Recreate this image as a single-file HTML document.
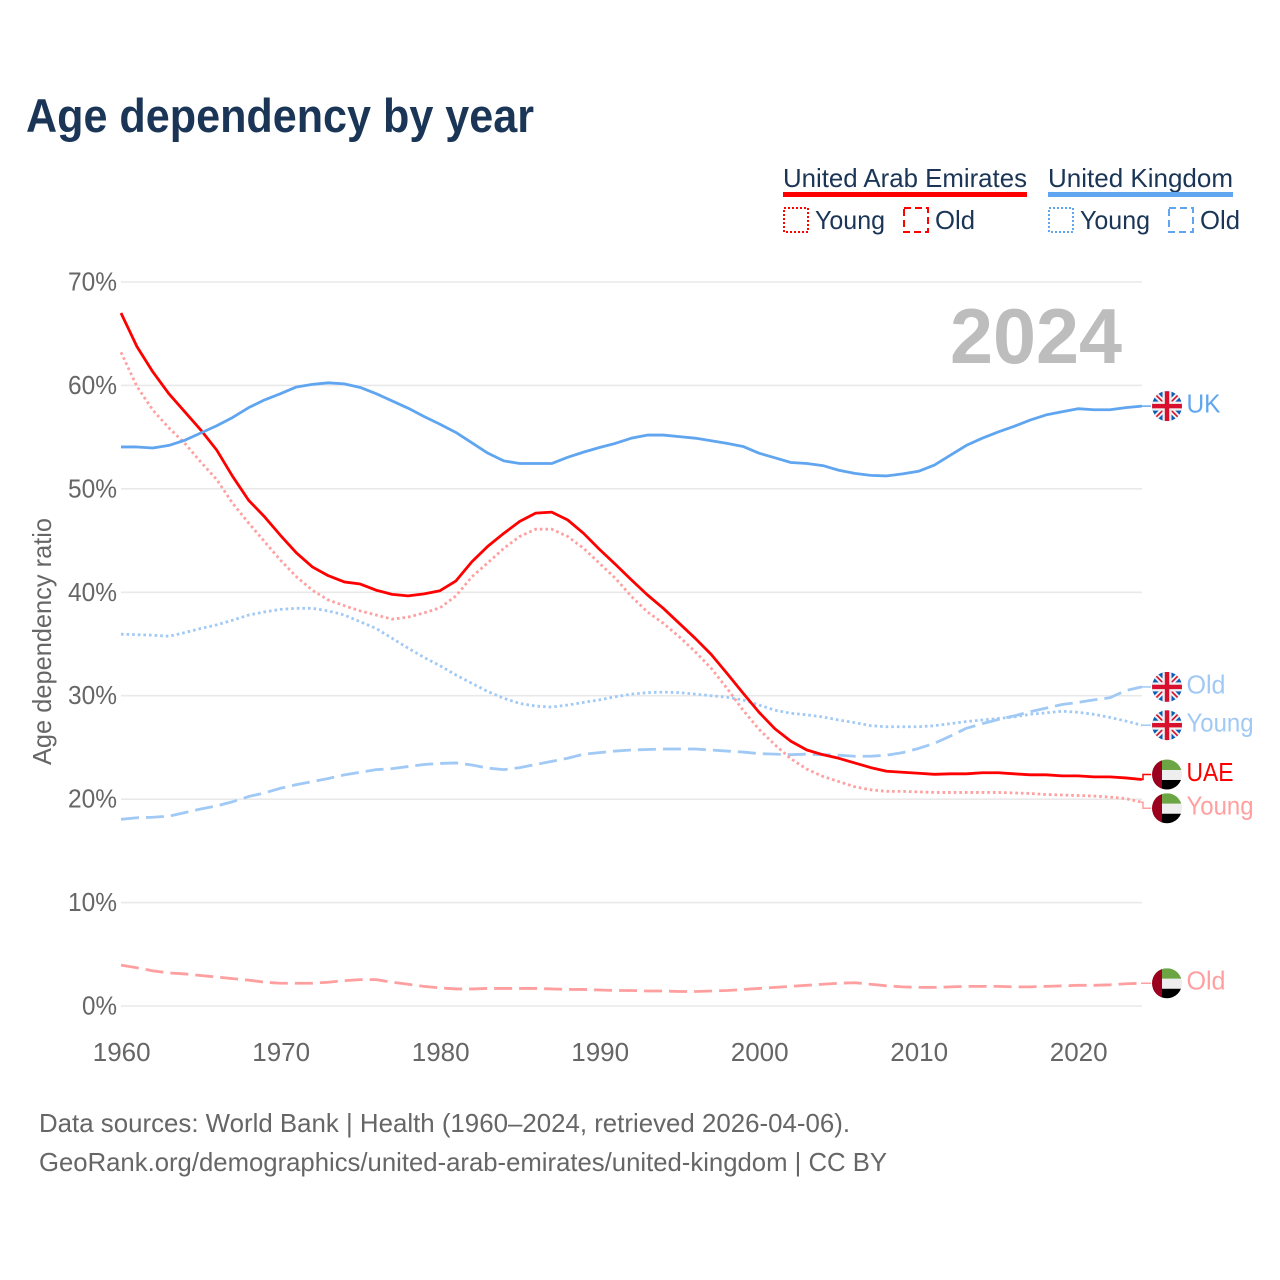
<!DOCTYPE html>
<html lang="en">
<head>
<meta charset="utf-8">
<title>Age dependency by year</title>
<style>
html,body{margin:0;padding:0;background:#fff;width:1280px;height:1280px;overflow:hidden}
svg{display:block}
text{font-family:"Liberation Sans",sans-serif}
</style>
</head>
<body>
<svg id="chart" xmlns="http://www.w3.org/2000/svg" width="1280" height="1280" viewBox="0 0 1280 1280">
  <rect x="0" y="0" width="1280" height="1280" fill="#fff"/>
  <text x="26" y="132" font-size="47" font-weight="700" fill="#1a3556" textLength="508" lengthAdjust="spacingAndGlyphs">Age dependency by year</text>

  <g font-size="26" fill="#1a3556">
    <text x="783" y="187" textLength="244" lengthAdjust="spacingAndGlyphs">United Arab Emirates</text>
    <rect x="783" y="192" width="244" height="5" fill="#ff0000"/>
    <text x="1048" y="187" textLength="185" lengthAdjust="spacingAndGlyphs">United Kingdom</text>
    <rect x="1048" y="192" width="185" height="5" fill="#60a5ef"/>
    <rect x="784" y="208" width="24" height="24" fill="none" stroke="#ff0000" stroke-width="2" stroke-dasharray="2,2"/>
    <text x="815" y="229" textLength="70" lengthAdjust="spacingAndGlyphs">Young</text>
    <rect x="904" y="208" width="24" height="24" fill="none" stroke="#ff0000" stroke-width="2" stroke-dasharray="7,4"/>
    <text x="935" y="229" textLength="40" lengthAdjust="spacingAndGlyphs">Old</text>
    <rect x="1049" y="208" width="24" height="24" fill="none" stroke="#60a5ef" stroke-width="2" stroke-dasharray="2,2"/>
    <text x="1080" y="229" textLength="70" lengthAdjust="spacingAndGlyphs">Young</text>
    <rect x="1169" y="208" width="24" height="24" fill="none" stroke="#60a5ef" stroke-width="2" stroke-dasharray="7,4"/>
    <text x="1200" y="229" textLength="40" lengthAdjust="spacingAndGlyphs">Old</text>
  </g>

  <g id="grid"></g>
  <g id="yticks" font-size="26" fill="#666"></g>
  <g id="xticks" font-size="26" fill="#666"></g>
  <text transform="translate(51,765) rotate(-90)" font-size="26" fill="#666" textLength="247" lengthAdjust="spacingAndGlyphs">Age dependency ratio</text>
  <text x="950" y="363" font-size="78" font-weight="700" fill="#bdbdbd" textLength="172" lengthAdjust="spacingAndGlyphs">2024</text>

  <g id="series"></g>
  <g id="endlabels"></g>

  <g font-size="26" fill="#666">
    <text x="39" y="1132" textLength="811" lengthAdjust="spacingAndGlyphs">Data sources: World Bank | Health (1960–2024, retrieved 2026-04-06).</text>
    <text x="39" y="1171" textLength="848" lengthAdjust="spacingAndGlyphs">GeoRank.org/demographics/united-arab-emirates/united-kingdom | CC BY</text>
  </g>
</svg>
<script>
const years = [1960,1961,1962,1963,1964,1965,1966,1967,1968,1969,
  1970,1971,1972,1973,1974,1975,1976,1977,1978,1979,
  1980,1981,1982,1983,1984,1985,1986,1987,1988,1989,
  1990,1991,1992,1993,1994,1995,1996,1997,1998,1999,
  2000,2001,2002,2003,2004,2005,2006,2007,2008,2009,
  2010,2011,2012,2013,2014,2015,2016,2017,2018,2019,
  2020,2021,2022,2023,2024];
const uaeTotal = [67.0,63.75,61.3,59.2,57.45,55.7,53.75,51.2,48.9,47.3,
  45.5,43.8,42.45,41.6,41.0,40.8,40.2,39.8,39.65,39.85,
  40.15,41.1,42.95,44.45,45.7,46.85,47.65,47.75,47.0,45.7,
  44.15,42.7,41.2,39.75,38.45,37.0,35.55,34.0,32.15,30.25,
  28.4,26.8,25.6,24.75,24.3,23.95,23.5,23.05,22.7,22.6,
  22.5,22.4,22.45,22.45,22.55,22.55,22.45,22.35,22.35,22.25,
  22.25,22.15,22.15,22.05,21.9];
const uaeYoung = [63.2,59.9,57.6,55.9,54.4,52.6,50.9,48.6,46.7,44.9,
  43.1,41.5,40.2,39.25,38.7,38.2,37.8,37.4,37.6,38.0,
  38.5,39.65,41.5,42.85,44.25,45.4,46.1,46.1,45.4,44.25,
  42.8,41.35,39.6,38.1,37.0,35.7,34.25,32.65,30.7,28.6,
  26.75,25.25,23.9,22.9,22.2,21.7,21.2,20.9,20.75,20.75,
  20.7,20.65,20.65,20.65,20.65,20.65,20.6,20.55,20.45,20.4,
  20.35,20.3,20.2,20.05,19.7];
const uaeOld = [3.95,3.7,3.4,3.2,3.1,2.95,2.8,2.65,2.5,2.3,
  2.2,2.2,2.2,2.3,2.45,2.55,2.55,2.3,2.1,1.9,
  1.75,1.65,1.65,1.7,1.7,1.7,1.7,1.65,1.6,1.6,
  1.55,1.5,1.5,1.45,1.45,1.4,1.4,1.45,1.5,1.6,
  1.7,1.8,1.9,2.0,2.1,2.2,2.25,2.1,1.95,1.85,
  1.8,1.8,1.85,1.9,1.9,1.9,1.85,1.85,1.9,1.95,
  2.0,2.0,2.05,2.15,2.2];
const ukTotal = [54.05,54.05,53.95,54.2,54.7,55.4,56.1,56.9,57.85,58.6,
  59.2,59.85,60.1,60.25,60.15,59.8,59.2,58.5,57.8,57.0,
  56.25,55.45,54.45,53.45,52.7,52.45,52.45,52.45,53.05,53.55,
  54.0,54.4,54.9,55.2,55.2,55.05,54.9,54.65,54.4,54.1,
  53.45,53.0,52.55,52.45,52.25,51.8,51.5,51.3,51.25,51.45,
  51.7,52.3,53.25,54.2,54.9,55.5,56.05,56.65,57.15,57.45,
  57.75,57.65,57.65,57.85,58.0];
const ukYoung = [35.95,35.9,35.85,35.75,36.1,36.5,36.85,37.3,37.8,38.1,
  38.35,38.45,38.45,38.2,37.8,37.15,36.5,35.55,34.6,33.7,
  32.9,32.0,31.2,30.4,29.75,29.25,29.0,28.9,29.1,29.35,
  29.6,29.9,30.15,30.3,30.35,30.3,30.15,30.0,29.85,29.6,
  29.1,28.6,28.3,28.15,27.95,27.65,27.4,27.1,27.0,27.0,
  27.0,27.1,27.3,27.5,27.65,27.8,27.95,28.2,28.35,28.5,
  28.4,28.2,27.9,27.55,27.15];
const ukOld = [18.05,18.2,18.25,18.35,18.7,19.05,19.35,19.75,20.25,20.6,
  21.05,21.4,21.7,22.0,22.35,22.6,22.85,22.95,23.15,23.35,
  23.45,23.5,23.3,23.0,22.85,23.05,23.35,23.65,23.95,24.35,
  24.5,24.65,24.75,24.8,24.85,24.85,24.85,24.75,24.65,24.55,
  24.4,24.35,24.3,24.35,24.3,24.25,24.15,24.15,24.25,24.5,
  24.9,25.4,26.1,26.85,27.3,27.7,28.05,28.45,28.8,29.15,
  29.35,29.6,29.8,30.5,30.85];
const yTickValues = [0,10,20,30,40,50,60,70];
const xTickYears = [1960,1970,1980,1990,2000,2010,2020];

const NS = 'http://www.w3.org/2000/svg';
function xScale(year){ return 121 + (year - 1960) * 15.95; }
function yScale(v){ return 1006 - v * 10.343; }
function mk(tag, attrs, parent){
  const el = document.createElementNS(NS, tag);
  for (const k in attrs) el.setAttribute(k, attrs[k]);
  parent.appendChild(el);
  return el;
}

const gridG = document.getElementById('grid');
const yTicksG = document.getElementById('yticks');
yTickValues.forEach(function(v){
  const line = mk('line', {x1:121, x2:1142, y1:yScale(v), y2:yScale(v), stroke:'#e9e9e9', 'stroke-width':1.6}, gridG);
  
  
  const t = mk('text', {x:117, y:yScale(v) + 8.5, 'text-anchor':'end', textLength:49, lengthAdjust:'spacingAndGlyphs'}, yTicksG);
  if (v === 0) { t.setAttribute('textLength', 35); }
  t.textContent = v + '%';
  
  
});

const xTicksG = document.getElementById('xticks');
xTickYears.forEach(function(yr){
  const t = mk('text', {x:xScale(yr) + 0.7, y:1061, 'text-anchor':'middle'}, xTicksG);
  t.textContent = String(yr);
  
  
});

const seriesG = document.getElementById('series');
const labelsG = document.getElementById('endlabels');
const defs = mk('defs', {}, labelsG);

const UAE_RED = '#ff0000', UK_BLUE = '#60a5ef', UAE_PALE = '#ff9f9f', UK_PALE = '#a0c9f5';
const DOT = '2.6,3', DASH = '18,7';

function drawLine(name, values, color, dash){
  const d = values.map(function(v, i){ return (i ? 'L' : 'M') + xScale(years[i]).toFixed(2) + ' ' + yScale(v).toFixed(2); }).join(' ');
  const p = mk('path', {d:d, fill:'none', stroke:color, 'stroke-width':2.8, 'stroke-linejoin':'round'}, seriesG);
  if (dash) p.setAttribute('stroke-dasharray', dash);
  
  
}

drawLine('line-uae-old', uaeOld, UAE_PALE, DASH);
drawLine('line-uk-old', ukOld, UK_PALE, DASH);
drawLine('line-uk-young', ukYoung, UK_PALE, DOT);
drawLine('line-uae-young', uaeYoung, UAE_PALE, DOT);
drawLine('line-uae-total', uaeTotal, UAE_RED, null);
drawLine('line-uk-total', ukTotal, UK_BLUE, null);

let clipId = 0;
function drawFlag(kind, name, cy){
  const cx = 1167, r = 15;
  clipId += 1;
  const id = 'flagclip' + clipId;
  const clip = mk('clipPath', {id:id}, defs);
  mk('circle', {cx:cx, cy:cy, r:r}, clip);
  const g = mk('g', {'clip-path':'url(#' + id + ')'}, labelsG);
  
  
  const x0 = cx - r, y0 = cy - r, s = 2 * r;
  if (kind === 'uae') {
    mk('rect', {x:x0, y:y0, width:s, height:10.5, fill:'#6ca544'}, g);
    mk('rect', {x:x0, y:y0 + 10.5, width:s, height:10, fill:'#eeeeee'}, g);
    mk('rect', {x:x0, y:y0 + 20.5, width:s, height:10, fill:'#000000'}, g);
    mk('rect', {x:x0, y:y0, width:10, height:s, fill:'#9b001f'}, g);
  } else {
    mk('rect', {x:x0, y:y0, width:s, height:s, fill:'#0b5cb5'}, g);
    mk('path', {d:'M' + x0 + ' ' + y0 + 'L' + (x0 + s) + ' ' + (y0 + s) + 'M' + (x0 + s) + ' ' + y0 + 'L' + x0 + ' ' + (y0 + s), stroke:'#f0f0f0', 'stroke-width':5.5, fill:'none'}, g);
    mk('path', {d:'M' + x0 + ' ' + y0 + 'L' + (x0 + s) + ' ' + (y0 + s) + 'M' + (x0 + s) + ' ' + y0 + 'L' + x0 + ' ' + (y0 + s), stroke:'#d8102e', 'stroke-width':1.6, fill:'none'}, g);
    mk('rect', {x:cx - 4.5, y:y0, width:9, height:s, fill:'#f0f0f0'}, g);
    mk('rect', {x:x0, y:cy - 4.5, width:s, height:9, fill:'#f0f0f0'}, g);
    mk('rect', {x:cx - 2.2, y:y0, width:4.4, height:s, fill:'#d8102e'}, g);
    mk('rect', {x:x0, y:cy - 2.2, width:s, height:4.4, fill:'#d8102e'}, g);
  }
}

function drawEnd(name, kind, values, color, text, width, shift){
  const ey = yScale(values[values.length - 1]);
  const fy = ey + shift;
  const c = mk('path', {d:'M1141 ' + ey.toFixed(2) + ' L1143 ' + ey.toFixed(2) + ' L1143 ' + fy.toFixed(2) + ' L1151 ' + fy.toFixed(2), fill:'none', stroke:color, 'stroke-width':1.5}, labelsG);
  
  
  drawFlag(kind, name + '-flag', fy);
  const t = mk('text', {x:1186.5, y:fy + 6.5, 'font-size':26, fill:color, textLength:width, lengthAdjust:'spacingAndGlyphs'}, labelsG);
  t.textContent = text;
  
  
}

drawEnd('end-uk-total', 'uk', ukTotal, UK_BLUE, 'UK', 34, 0);
drawEnd('end-uk-old', 'uk', ukOld, UK_PALE, 'Old', 39, 0);
drawEnd('end-uk-young', 'uk', ukYoung, UK_PALE, 'Young', 67, 0);
drawEnd('end-uae-total', 'uae', uaeTotal, UAE_RED, 'UAE', 47, -5);
drawEnd('end-uae-young', 'uae', uaeYoung, UAE_PALE, 'Young', 67, 6);
drawEnd('end-uae-old', 'uae', uaeOld, UAE_PALE, 'Old', 39, 0);
</script>
</body>
</html>
